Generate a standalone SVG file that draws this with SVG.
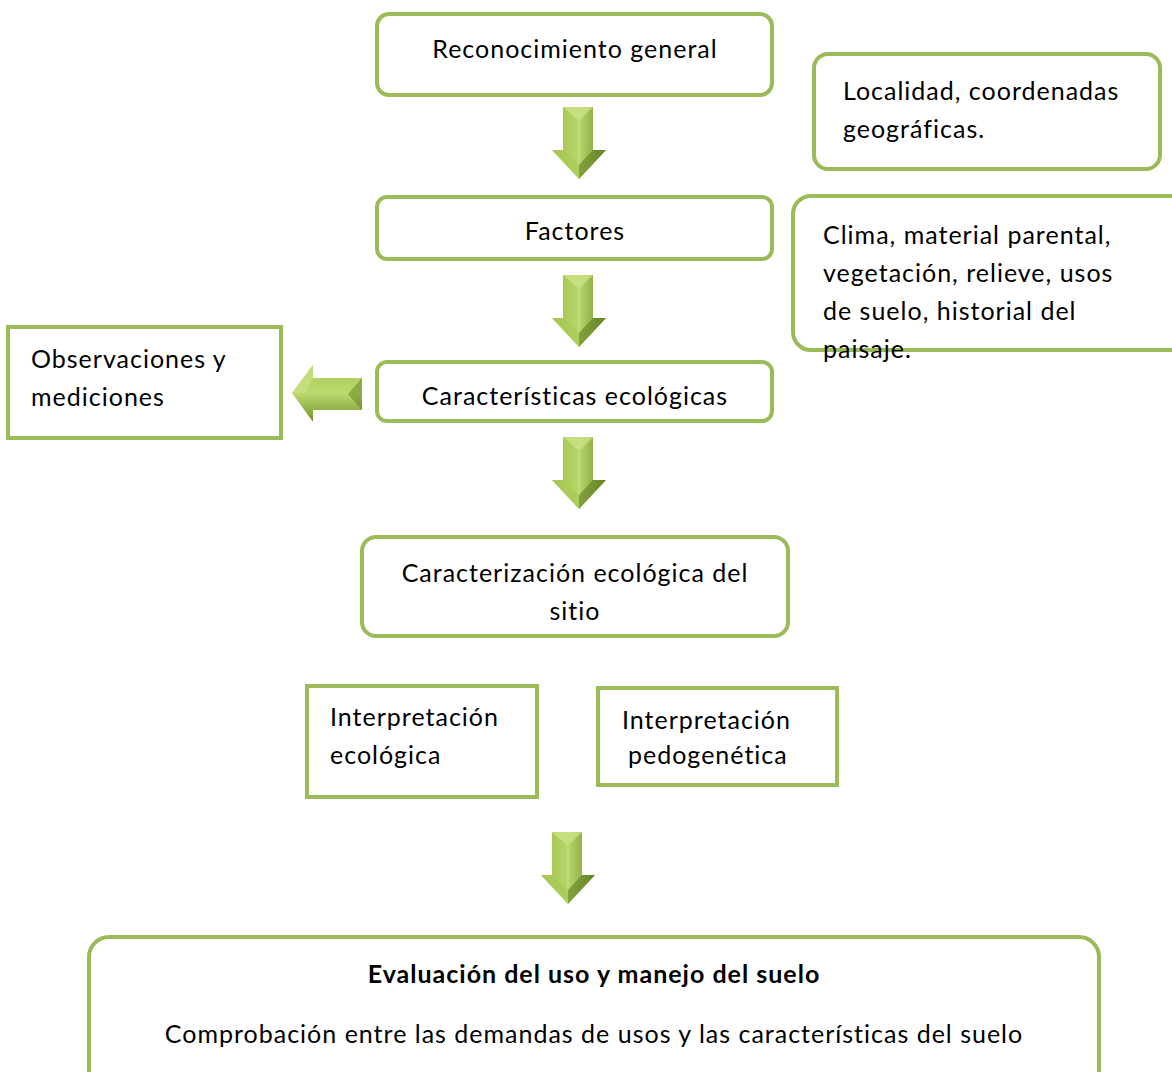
<svg xmlns="http://www.w3.org/2000/svg" width="1172" height="1072" viewBox="0 0 1172 1072">
<style>
.box{fill:#fff;stroke:#9bbb59;stroke-width:4}
.t{font-family:Lato,"Open Sans","Liberation Sans",sans-serif;font-size:25px;letter-spacing:1px;fill:#000}
.c{text-anchor:middle}
.b{font-weight:bold}
</style>
<defs>
<linearGradient id="gv" x1="0" y1="0" x2="1" y2="0">
<stop offset="0" stop-color="#9cc04a"/>
<stop offset="0.5" stop-color="#b8d66a"/>
<stop offset="1" stop-color="#6f9228"/>
</linearGradient>
<linearGradient id="gh" x1="0" y1="0" x2="0" y2="1">
<stop offset="0" stop-color="#a8cb56"/>
<stop offset="0.5" stop-color="#bcd96e"/>
<stop offset="1" stop-color="#6f9228"/>
</linearGradient>
<g id="down">
<polygon points="-16,0 14,0 14,43 27,43 0,72 -27,43 -16,43" fill="url(#gv)"/>
<polygon points="-16,0 14,0 0,14" fill="#c9e286" opacity="0.8"/>
<polyline points="0,14 0,58" fill="none" stroke="#d6ea9c" stroke-width="1" opacity="0.6"/>
<polygon points="-27,43 -16,43 0,58 0,72" fill="#a8cb56" opacity="0.7"/>
<polygon points="27,43 14,43 0,58 0,72" fill="#5e7f20" opacity="0.6"/>
</g>
</defs>
<g id="connectors">
<use href="#down" x="579" y="107"/>
<use href="#down" x="579" y="275"/>
<use href="#down" x="579" y="437"/>
<use href="#down" x="568" y="832"/>
<g id="left-arrow">
<polygon points="292,393 313,365 313,378 362,378 362,410 313,410 313,422" fill="url(#gh)"/>
<polygon points="362,378 362,410 348,394" fill="#5e7f20" opacity="0.5"/>
<polygon points="292,393 313,365 313,378 305,393" fill="#c9e286" opacity="0.7"/>
</g>
</g>
<g id="n1"><rect class="box" x="377" y="14" width="395" height="81" rx="12"/><text class="t c" x="575" y="58">Reconocimiento general</text></g>
<g id="n2"><rect class="box" x="814" y="54" width="346" height="115" rx="14"/><text class="t" x="843" y="100">Localidad, coordenadas</text><text class="t" x="843" y="138">geográficas.</text></g>
<g id="n3"><rect class="box" x="377" y="197" width="395" height="62" rx="10"/><text class="t c" x="575" y="240">Factores</text></g>
<g id="n4"><rect class="box" x="793" y="196" width="400" height="154" rx="18"/><text class="t" x="823" y="244">Clima, material parental,</text><text class="t" x="823" y="282">vegetación, relieve, usos</text><text class="t" x="823" y="320">de suelo, historial del</text><text class="t" x="823" y="358">paisaje.</text></g>
<g id="n5"><rect class="box" x="8" y="327" width="273" height="111"/><text class="t" x="31" y="368">Observaciones y</text><text class="t" x="31" y="406">mediciones</text></g>
<g id="n6"><rect class="box" x="377" y="362" width="395" height="59" rx="10"/><text class="t c" x="575" y="405">Características ecológicas</text></g>
<g id="n7"><rect class="box" x="362" y="537" width="426" height="99" rx="14"/><text class="t c" x="575" y="582">Caracterización ecológica del</text><text class="t c" x="575" y="620">sitio</text></g>
<g id="n8"><rect class="box" x="307" y="686" width="230" height="111"/><text class="t" x="330" y="726">Interpretación</text><text class="t" x="330" y="764">ecológica</text></g>
<g id="n9"><rect class="box" x="598" y="688" width="239" height="97"/><text class="t" x="622" y="729">Interpretación</text><text class="t" x="628" y="764">pedogenética</text></g>
<g id="n10"><rect class="box" x="89" y="937" width="1010" height="160" rx="20"/><text class="t c b" x="594" y="983">Evaluación del uso y manejo del suelo</text><text class="t c" x="594" y="1043">Comprobación entre las demandas de usos y las características del suelo</text></g>
</svg>
